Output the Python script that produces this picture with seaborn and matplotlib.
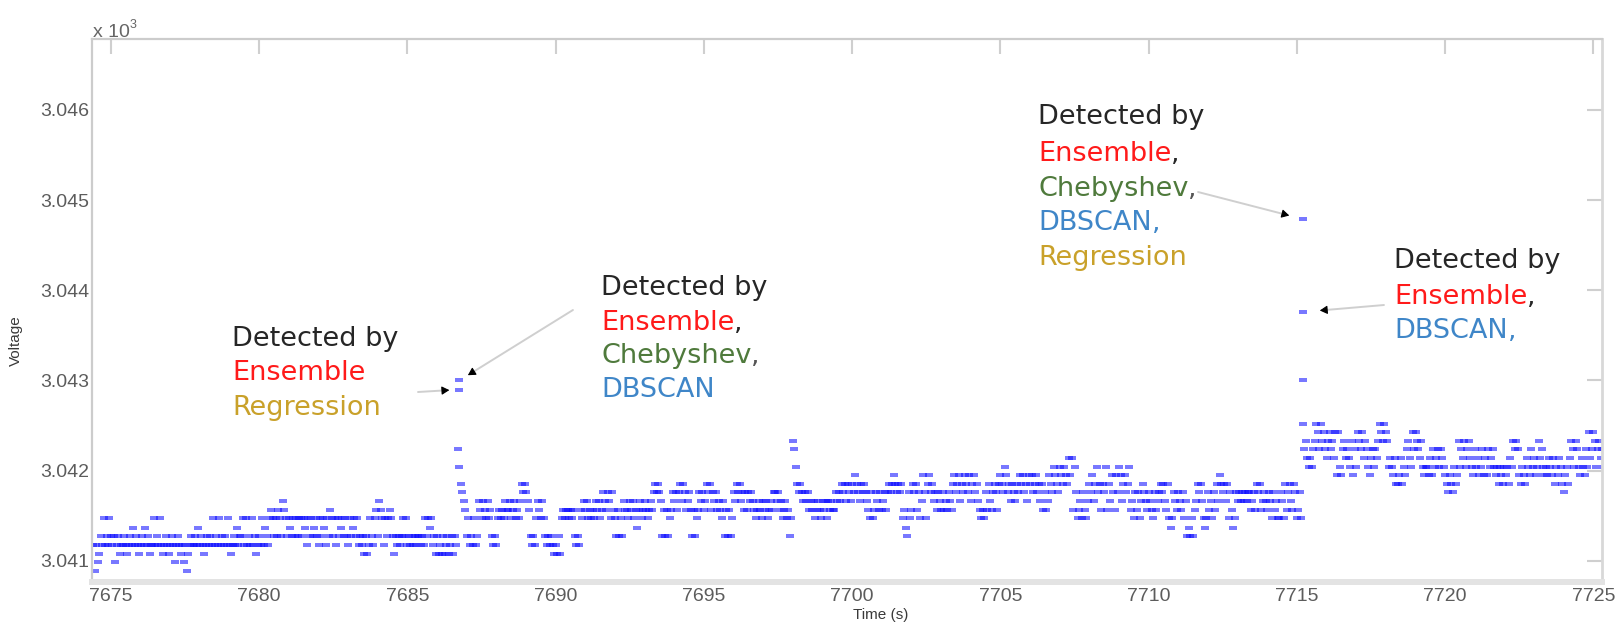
import numpy as np
import pandas as pd
import matplotlib
matplotlib.use("Agg")
import matplotlib.pyplot as plt
from matplotlib.ticker import FuncFormatter
import seaborn as sns

# Quantised ADC voltage levels (V); level_keys maps one character to one level
voltage_levels = [3040.89, 3040.99, 3041.08, 3041.18, 3041.28, 3041.37, 3041.47, 3041.56,
                  3041.66, 3041.76, 3041.85, 3041.95, 3042.04, 3042.14, 3042.24, 3042.33,
                  3042.43, 3042.52]
level_keys = "0123456789ABCDEFGH"

# Sampled voltage stream: one row per second, 20 samples per row, first row at t_start
t_start = 7674.40
level_rows = [
    "30312436343643413423", "34323435343234353423", "36343632343234313432",
    "31302343343534323434", "36343634343632343534", "46363436342343635436",
    "76464764876465464646", "64653646456436465364", "76463645646436456463",
    "43424236436748763646", "76424343464634343434", "43436465634242324234",
    "234243ECA98746343634", "87687686743436767687", "786786768A9A98743436",
    "87686434343232426767", "76767434376878676768", "78679879869764746487",
    "7687867578678767879A", "9A98474746798979A8A9", "78974746798978A9A798",
    "97876847474698A9A897", "97989876787687867879", "989786786746FECA9A98",
    "98978786787687868787", "79898A9A8A98A9BA98A9", "A9876967987978979A9A",
    "BA9A9A6754967A9A7968", "B96AB9A8979879787987", "AB9AB8A9BA9B8AB9A876",
    "7697A879A97ABA9CB9A8", "A98A9BAB9A8BAB9AB9A8", "A7978BA9CBA9CBACBADB",
    "D7C967869768A9B8AC9A", "7A9C7A8B97B9CB8AB9AC", "78697968A98798769789",
    "A9A87A65698798796845", "46478A9A8656978697A8", "BA9A8A69756989898989",
    "97897A9A789879869786", "6986A79A87A96796HEFD", "CDCEFHGEHFGEDFGEFDGB",
    "GCBEFDEDCFBECGFEGDFE", "CBDECEDFHGFHGFCDCBDA", "ABDACBEFDCGEGFEDFCBC",
    "CBDBECDECEDCBA9BA9CA", "BFCEDFCEFDCBECDBCEBD", "BECDECBCACBACBCADCFE",
    "FEBACBADCBECDBCFDECB", "CBDCBDACBDCA9BCADFEC", "FECBDCBECGDEGFCEFDEC",
]

# Points flagged as anomalies
anomaly_time = [7686.75, 7686.75, 7715.20, 7715.20, 7715.20]
anomaly_voltage = [3042.90, 3043.00, 3043.00, 3043.76, 3044.79]

# Decode the stream
times, volts = [], []
for r, row in enumerate(level_rows):
    for j, ch in enumerate(row):
        times.append(t_start + r + j / len(row))
        volts.append(voltage_levels[level_keys.index(ch)])
df = pd.DataFrame({"time": times, "voltage": volts})

sns.set_style("white")
plt.rcParams["font.family"] = ["Liberation Sans", "DejaVu Sans"]

W, H = 1619, 624
fig = plt.figure(figsize=(W / 100, H / 100), dpi=100)
ax = fig.add_axes([92 / W, 42 / H, 1510 / W, 543 / H])

# flat rectangular dot, wider than tall
dash = [(-1.0, -0.6), (1.0, -0.6), (1.0, 0.6), (-1.0, 0.6), (-1.0, -0.6)]
dot = dict(marker=dash, s=26, color="#0a0aff", alpha=0.55, linewidth=0, legend=False)
sns.scatterplot(data=df, x="time", y="voltage", ax=ax, **dot)
sns.scatterplot(x=anomaly_time, y=anomaly_voltage, ax=ax, **dot)

ax.set_xlim(7674.36, 7725.29)
ax.set_ylim(3040.766, 3046.786)
ax.set_xticks(np.arange(7675, 7726, 5))
ax.set_yticks([3041, 3042, 3043, 3044, 3045, 3046])
ax.yaxis.set_major_formatter(FuncFormatter(lambda v, _: f"{v / 1000:.3f}"))
ax.xaxis.set_major_formatter(FuncFormatter(lambda v, _: f"{v:.0f}"))
ax.tick_params(direction="in", length=11, width=1.5, color="#cfcfcf",
               top=True, right=True, labelsize=14, labelcolor="#5c5c5c")
ax.tick_params(axis="x", pad=4)
ax.tick_params(axis="y", pad=2)

for side in ("left", "top"):
    ax.spines[side].set_color("#cccccc")
    ax.spines[side].set_linewidth(1.6)
ax.spines["right"].set_color("#d8d8d8")
ax.spines["right"].set_linewidth(2.0)
ax.spines["bottom"].set_color("#e3e3e3")
ax.spines["bottom"].set_linewidth(4.3)

ax.set_xlabel("Time (s)", fontsize=11, color="#3a3a3a")
ax.xaxis.set_label_coords(0.5225, -0.048)
ax.set_ylabel("Voltage", fontsize=11, color="#3a3a3a")
ax.yaxis.set_label_coords(-0.0457, 0.444)

# axis multiplier
mult = ax.text(0.0007, 1.0046, "x 10", transform=ax.transAxes, fontsize=14,
               color="#666666", va="baseline", ha="left")
ax.annotate("3", xy=(1, 0.55), xycoords=mult, fontsize=9, color="#666666",
            va="bottom", ha="left")

DARK = "#262626"
RED = "#ff1a1a"
GREEN = "#4f7a3c"
BLUE = "#3f86c8"
GOLD = "#c9a12a"
TEXT_SIZE = 19.5


def draw_block(x, baselines, lines):
    for yb, (word, color, comma) in zip(baselines, lines):
        t = ax.text(x, yb, word, transform=ax.transAxes, color=color, fontsize=TEXT_SIZE,
                    family="DejaVu Sans", va="baseline", ha="left")
        if comma:
            ax.annotate(",", xy=(1, 0), xycoords=t, color=comma, fontsize=TEXT_SIZE,
                        family="DejaVu Sans", va="bottom", ha="left")


PX = 72 / 100  # points per pixel


def draw_arrow(tail, idx, gap_px):
    target = (anomaly_time[idx], anomaly_voltage[idx])
    p_head = ax.transData.transform(target)
    p_tail = ax.transAxes.transform(tail)
    d = (p_tail - p_head) / np.hypot(*(p_tail - p_head))
    # light grey leader line
    ax.annotate("", xy=target, xycoords="data", xytext=tail, textcoords="axes fraction",
                arrowprops=dict(arrowstyle="-", color="#cfcfcf", lw=1.4,
                                shrinkA=0, shrinkB=(gap_px + 5) * PX))
    # small black arrow head at the end of the leader
    off = d * (gap_px + 6) * PX
    ax.annotate("", xy=target, xycoords="data", xytext=(off[0], off[1]),
                textcoords="offset points",
                arrowprops=dict(arrowstyle="-|>,head_length=0.45,head_width=0.25",
                                fc="black", ec="black", lw=0.8,
                                shrinkA=0, shrinkB=gap_px * PX))


draw_block(0.0927, [0.4346, 0.3720, 0.3076],
           [("Detected by", DARK, None), ("Ensemble", RED, None), ("Regression", GOLD, None)])
draw_block(0.3371, [0.5285, 0.4641, 0.4033, 0.3407],
           [("Detected by", DARK, None), ("Ensemble", RED, DARK),
            ("Chebyshev", GREEN, "#555555"), ("DBSCAN", BLUE, None)])
draw_block(0.6265, [0.8435, 0.7753, 0.7109, 0.6483, 0.5838],
           [("Detected by", DARK, None), ("Ensemble", RED, DARK),
            ("Chebyshev", GREEN, "#555555"), ("DBSCAN", BLUE, BLUE), ("Regression", GOLD, None)])
draw_block(0.8623, [0.5783, 0.5120, 0.4494],
           [("Detected by", DARK, None), ("Ensemble", RED, DARK), ("DBSCAN", BLUE, BLUE)])

draw_arrow((0.2159, 0.3499), 0, 10)
draw_arrow((0.3185, 0.5009), 1, 10)
draw_arrow((0.7325, 0.7182), 4, 14)
draw_arrow((0.8556, 0.5101), 3, 17)

fig.savefig("out.png", dpi=100)
